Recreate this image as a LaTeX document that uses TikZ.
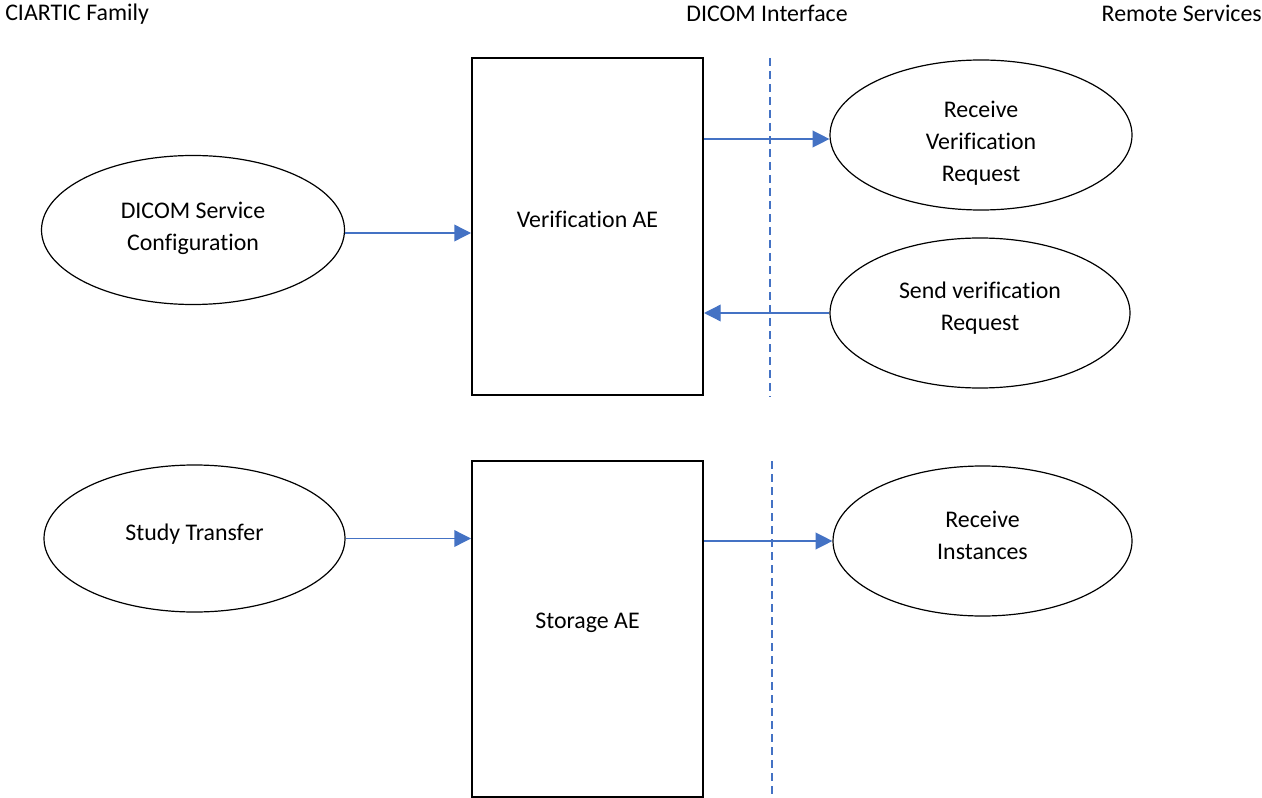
\documentclass[tikz,border=0pt]{standalone}
\usepackage{fontspec}
\setmainfont[Ligatures=NoCommon]{Carlito}
\usetikzlibrary{shapes.geometric,arrows.meta}
\definecolor{linkblue}{HTML}{4472C4}
\tikzset{
  ae/.style={draw,line width=1.5pt,inner sep=0pt,minimum width=173.25pt},
  svc/.style={ellipse,draw,line width=0.9pt,inner sep=0pt},
  txt/.style={align=center},
  head/.style={inner sep=0pt},
  flow/.style={linkblue,line width=1pt,-{Triangle[length=12.5pt,width=12.5pt]}},
  iface/.style={linkblue,line width=1.5pt,dash pattern=on 6pt off 3.75pt}
}
\begin{document}
\begin{tikzpicture}[x=0.75pt,y=-0.75pt,font=\fontsize{17.9}{24}\selectfont]
\useasboundingbox (0,0) rectangle (1262,798);

\node[head,anchor=base west] (fam) at (5,21) {CIARTIC Family};
\node[head,anchor=base] (dif) at (767,22) {DICOM Interface};
\node[head,anchor=base east] (rem) at (1262,22) {Remote Services};

\node[ae,minimum height=252.75pt,label={[txt,yshift=5pt]center:Verification AE}] (ver) at (587.5,226.5) {};
\node[ae,minimum height=252pt,label={[txt,yshift=4.5pt]center:Storage AE}] (sto) at (587.5,629) {};

\foreach \x/\a/\b in {770/58/397,772/461/798}
  \draw[iface] (\x,\a) -- (\x,\b);

\node[svc,minimum width=227.25pt,minimum height=111.75pt,
  label={[txt,yshift=1.5pt]center:DICOM Service\\Configuration}] (cfg) at (193,230) {};
\node[svc,minimum width=225.75pt,minimum height=110.25pt,
  label={[txt,yshift=3pt]center:Study Transfer}] (study) at (194.5,538.5) {};
\node[svc,minimum width=226.5pt,minimum height=112.5pt,
  label={[txt,yshift=-6.5pt]center:Receive\\Verification\\Request}] (recv) at (981,135) {};
\node[svc,minimum width=225pt,minimum height=112.5pt,
  label={[txt,yshift=3.5pt]center:Send verification\\Request}] (send) at (980,313) {};
\node[svc,minimum width=224.25pt,minimum height=112.5pt,
  label={[txt,yshift=4pt]center:Receive\\Instances}] (inst) at (982.5,541) {};

\draw[flow] ([yshift=-2.25pt]cfg.east) -- ([yshift=-2.25pt]cfg.east -| ver.west);
\draw[flow] ([yshift=-3pt]ver.east |- recv.west) -- ([yshift=-3pt]recv.west);
\draw[flow] (send.west) -- (send.west -| ver.east);
\draw[flow] (study.east) -- (study.east -| sto.west);
\draw[flow] (sto.east |- inst.west) -- (inst.west);
\end{tikzpicture}
\end{document}
